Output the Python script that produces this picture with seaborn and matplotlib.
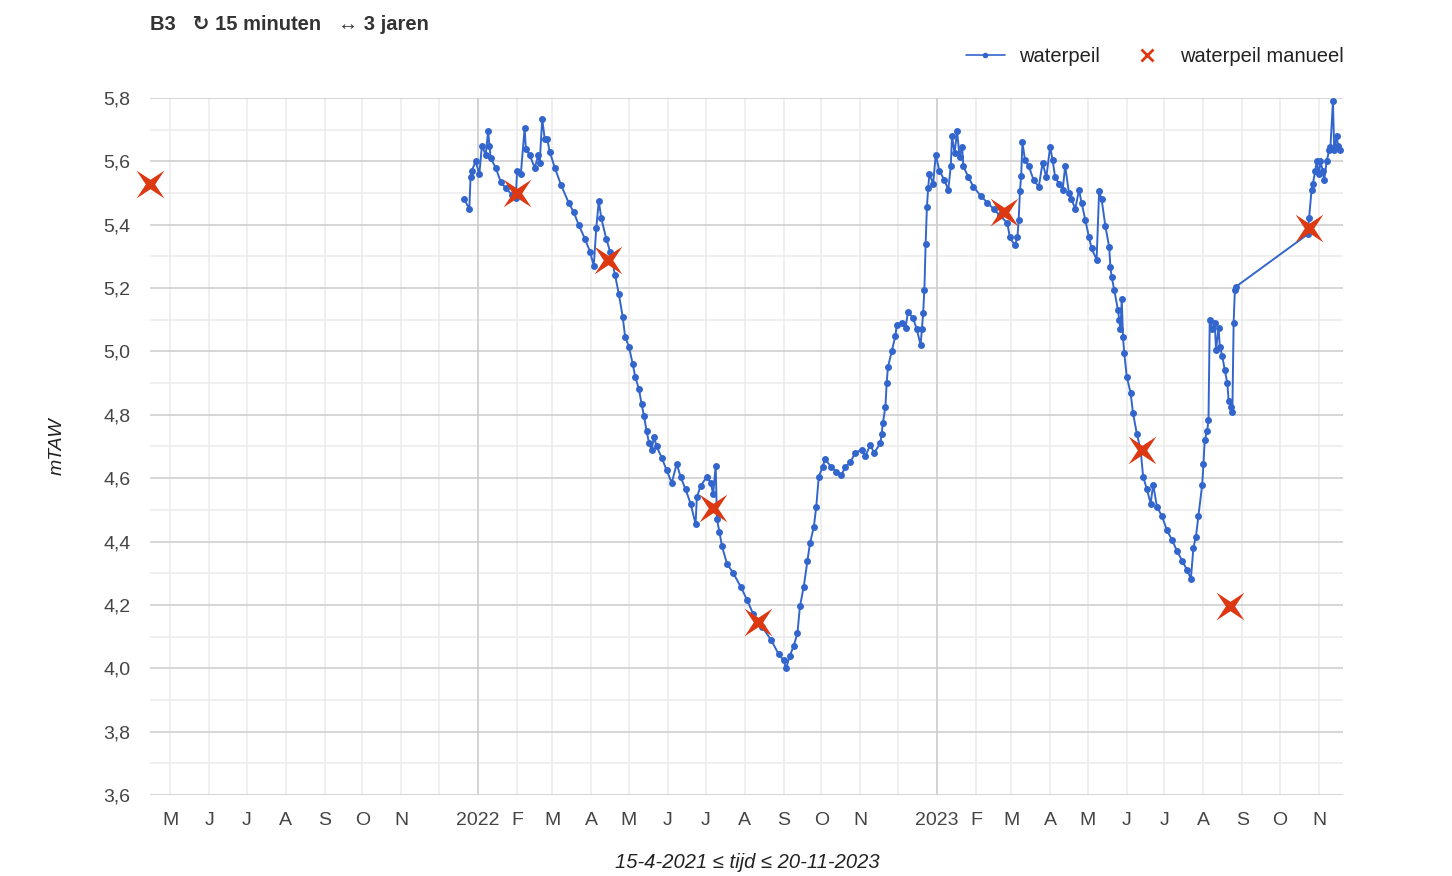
import matplotlib
matplotlib.use("Agg")
import matplotlib.pyplot as plt
import matplotlib.dates as mdates
from matplotlib.ticker import MultipleLocator, FuncFormatter
from matplotlib.lines import Line2D
from matplotlib.path import Path
import numpy as np
import pandas as pd
import seaborn as sns

# ---- data ----
wp_dates = [
    "2021-12-21", "2021-12-25", "2021-12-26", "2021-12-27", "2021-12-30",
    "2022-01-02", "2022-01-04", "2022-01-07", "2022-01-09", "2022-01-10", "2022-01-11",
    "2022-01-15", "2022-01-19", "2022-01-23", "2022-01-28", "2022-01-31",
    "2022-02-01", "2022-02-04", "2022-02-07", "2022-02-08", "2022-02-11", "2022-02-15",
    "2022-02-18", "2022-02-19", "2022-02-21", "2022-02-23", "2022-02-25", "2022-02-27",
    "2022-03-03", "2022-03-08", "2022-03-14", "2022-03-18", "2022-03-22", "2022-03-27",
    "2022-03-31", "2022-04-03", "2022-04-05", "2022-04-07", "2022-04-09", "2022-04-13",
    "2022-04-16", "2022-04-20", "2022-04-23", "2022-04-26", "2022-04-28", "2022-05-01",
    "2022-05-04", "2022-05-06", "2022-05-09", "2022-05-11", "2022-05-13", "2022-05-15",
    "2022-05-17", "2022-05-19", "2022-05-21", "2022-05-23", "2022-05-27", "2022-05-31",
    "2022-06-04", "2022-06-08", "2022-06-11", "2022-06-15", "2022-06-19", "2022-06-23",
    "2022-06-24", "2022-06-27", "2022-07-02", "2022-07-05", "2022-07-07", "2022-07-09",
    "2022-07-10", "2022-07-12", "2022-07-14", "2022-07-18", "2022-07-23", "2022-07-29",
    "2022-08-03", "2022-08-08", "2022-08-15", "2022-08-22", "2022-08-28", "2022-09-01",
    "2022-09-03", "2022-09-06", "2022-09-09", "2022-09-12", "2022-09-14", "2022-09-17",
    "2022-09-20", "2022-09-22", "2022-09-25", "2022-09-27", "2022-09-29", "2022-10-02",
    "2022-10-04", "2022-10-09", "2022-10-13", "2022-10-17", "2022-10-20", "2022-10-24",
    "2022-10-28", "2022-11-02", "2022-11-05", "2022-11-09", "2022-11-12", "2022-11-17",
    "2022-11-18", "2022-11-19", "2022-11-21", "2022-11-22", "2022-11-23", "2022-11-26",
    "2022-11-29", "2022-11-30", "2022-12-04", "2022-12-07", "2022-12-09", "2022-12-13",
    "2022-12-16", "2022-12-19", "2022-12-20", "2022-12-21", "2022-12-22", "2022-12-23",
    "2022-12-24", "2022-12-25", "2022-12-26", "2022-12-29", "2022-12-31",
    "2023-01-03", "2023-01-07", "2023-01-10", "2023-01-12", "2023-01-13", "2023-01-15",
    "2023-01-17", "2023-01-19", "2023-01-21", "2023-01-22", "2023-01-26", "2023-01-30",
    "2023-02-05", "2023-02-10", "2023-02-15", "2023-02-20", "2023-02-26", "2023-02-28",
    "2023-03-04", "2023-03-06", "2023-03-07", "2023-03-08", "2023-03-09", "2023-03-10",
    "2023-03-12", "2023-03-15", "2023-03-19", "2023-03-23", "2023-03-26", "2023-03-29",
    "2023-04-01", "2023-04-03", "2023-04-05", "2023-04-08", "2023-04-11", "2023-04-13",
    "2023-04-16", "2023-04-18", "2023-04-21", "2023-04-24", "2023-04-26", "2023-04-29",
    "2023-05-02", "2023-05-04", "2023-05-08", "2023-05-10", "2023-05-12", "2023-05-15",
    "2023-05-18", "2023-05-19", "2023-05-20", "2023-05-22", "2023-05-25", "2023-05-26",
    "2023-05-27", "2023-05-28", "2023-05-29", "2023-05-30", "2023-06-01", "2023-06-04",
    "2023-06-06", "2023-06-09", "2023-06-12", "2023-06-14", "2023-06-17", "2023-06-20",
    "2023-06-22", "2023-06-25", "2023-06-29", "2023-07-03", "2023-07-07", "2023-07-11",
    "2023-07-15", "2023-07-19", "2023-07-22", "2023-07-24", "2023-07-26", "2023-07-28",
    "2023-07-31", "2023-08-01", "2023-08-02", "2023-08-04", "2023-08-05", "2023-08-06",
    "2023-08-08", "2023-08-10", "2023-08-11", "2023-08-13", "2023-08-14", "2023-08-16",
    "2023-08-18", "2023-08-20", "2023-08-21", "2023-08-23", "2023-08-24", "2023-08-25",
    "2023-08-26", "2023-08-27",
    "2023-10-23", "2023-10-24", "2023-10-26", "2023-10-27", "2023-10-29", "2023-10-30",
    "2023-11-01", "2023-11-02", "2023-11-04", "2023-11-05", "2023-11-07", "2023-11-09",
    "2023-11-10", "2023-11-12", "2023-11-13", "2023-11-15", "2023-11-16", "2023-11-18",
]
wp_values = [
    5.48, 5.45, 5.55, 5.57, 5.60,
    5.56, 5.65, 5.62, 5.695, 5.65, 5.61,
    5.58, 5.535, 5.515, 5.495, 5.485,
    5.57, 5.56, 5.705, 5.64, 5.62, 5.58,
    5.62, 5.595, 5.735, 5.67, 5.67, 5.63,
    5.58, 5.525, 5.47, 5.44, 5.40, 5.355,
    5.315, 5.27, 5.39, 5.475, 5.42, 5.355,
    5.315, 5.24, 5.18, 5.11, 5.045, 5.015,
    4.96, 4.92, 4.88, 4.835, 4.795, 4.75,
    4.71, 4.69, 4.73, 4.70, 4.665, 4.625,
    4.585, 4.645, 4.605, 4.565, 4.52, 4.455,
    4.54, 4.575, 4.605, 4.585, 4.55, 4.64,
    4.47, 4.43, 4.385, 4.33, 4.30, 4.257,
    4.215, 4.17, 4.13, 4.09, 4.045, 4.025,
    4.00, 4.04, 4.07, 4.11, 4.195, 4.257,
    4.34, 4.395, 4.445, 4.51, 4.605, 4.635,
    4.66, 4.635, 4.62, 4.61, 4.635, 4.65,
    4.68, 4.69, 4.67, 4.705, 4.68, 4.71,
    4.74, 4.775, 4.825, 4.90, 4.95, 5.00,
    5.05, 5.085, 5.09, 5.075, 5.125, 5.105,
    5.07, 5.02, 5.07, 5.12, 5.195, 5.34,
    5.455, 5.515, 5.56, 5.53, 5.62,
    5.57, 5.54, 5.51, 5.585, 5.68, 5.625,
    5.695, 5.615, 5.645, 5.585, 5.55, 5.52,
    5.49, 5.47, 5.45, 5.43, 5.405, 5.36,
    5.335, 5.36, 5.415, 5.505, 5.555, 5.66,
    5.605, 5.585, 5.54, 5.52, 5.595, 5.55,
    5.645, 5.605, 5.55, 5.53, 5.51, 5.585,
    5.50, 5.48, 5.45, 5.51, 5.47, 5.415,
    5.36, 5.325, 5.29, 5.505, 5.48, 5.395,
    5.33, 5.265, 5.235, 5.195, 5.13, 5.10,
    5.07, 5.165, 5.045, 4.995, 4.92, 4.87,
    4.805, 4.74, 4.69, 4.605, 4.565, 4.52,
    4.58, 4.51, 4.48, 4.435, 4.405, 4.37,
    4.34, 4.31, 4.283, 4.38, 4.415, 4.48,
    4.58, 4.645, 4.72, 4.75, 4.785, 5.10,
    5.07, 5.09, 5.005, 5.075, 5.015, 4.985,
    4.94, 4.90, 4.845, 4.825, 4.81, 5.09,
    5.195, 5.205,
    5.37, 5.42, 5.51, 5.53, 5.57, 5.60,
    5.56, 5.60, 5.57, 5.54, 5.60, 5.635,
    5.645, 5.79, 5.635, 5.68, 5.65, 5.635,
]
man_dates = ["2021-04-15", "2022-02-01", "2022-04-14", "2022-07-07", "2022-08-12",
             "2023-02-23", "2023-06-13", "2023-08-22", "2023-10-24"]
man_values = [5.53, 5.50, 5.29, 4.505, 4.145, 5.44, 4.69, 4.195, 5.39]

x_start, x_end = "2021-04-15", "2023-11-20"
title_text = "B3   \u21bb 15 minuten   \u2194 3 jaren"
x_label = "15-4-2021 \u2264 tijd \u2264 20-11-2023"
y_label = "mTAW"
series_names = ["waterpeil", "waterpeil manueel"]

# ---- plotting ----
BLUE = "#3366cc"
RED = "#dc3912"
W, H = 1452, 876

# thin four-pointed star (points on the diagonals)
ang = np.deg2rad(np.arange(8) * 45.0 + 45.0)
rad = np.array([1.0 if i % 2 == 0 else 0.24 for i in range(8)])
star_verts = np.column_stack([rad * np.cos(ang), rad * np.sin(ang)])
star_verts = np.vstack([star_verts, star_verts[:1]])
star_path = Path(star_verts, closed=True)

sns.set_theme(style="white")
plt.rcParams["font.family"] = ["Liberation Sans", "DejaVu Sans"]

df_wp = pd.DataFrame({"tijd": pd.to_datetime(wp_dates), "waterpeil": wp_values})
df_man = pd.DataFrame({"tijd": pd.to_datetime(man_dates), "waterpeil": man_values})

fig = plt.figure(figsize=(W / 100, H / 100), dpi=100)
ax = fig.add_axes([150 / W, 1 - 795 / H, (1343 - 150) / W, (795 - 98) / H])

sns.lineplot(data=df_wp, x="tijd", y="waterpeil", ax=ax, color=BLUE, lw=1.4,
             marker="o", markersize=5, markeredgewidth=0, sort=False, zorder=3)
sns.scatterplot(data=df_man, x="tijd", y="waterpeil", ax=ax, color=RED,
                marker=star_path, s=400, linewidth=0, zorder=4, clip_on=False)

ax.set_xlim(pd.Timestamp(x_start), pd.Timestamp(x_end))
ax.set_ylim(3.6, 5.8)

# y grid
ax.yaxis.set_major_locator(MultipleLocator(0.2))
ax.yaxis.set_minor_locator(MultipleLocator(0.1))
ax.yaxis.set_major_formatter(FuncFormatter(lambda v, p: f"{v:.1f}".replace(".", ",")))
ax.grid(which="major", axis="y", color="#cccccc", lw=1.1)
ax.grid(which="minor", axis="y", color="#ebebeb", lw=1.1)

# x grid: month starts
ax.xaxis.set_major_locator(mdates.MonthLocator())
initials = "JFMAMJJASOND"
def fmt_x(v, p):
    d = mdates.num2date(v)
    if d.month == 1:
        return str(d.year)
    if d.month == 12:
        return ""
    return initials[d.month - 1]
ax.xaxis.set_major_formatter(FuncFormatter(fmt_x))
ax.grid(which="major", axis="x", color="#ebebeb", lw=1.1)
for yr in (2022, 2023):
    ax.axvline(pd.Timestamp(f"{yr}-01-01"), color="#cccccc", lw=1.1, zorder=1)
ax.set_axisbelow(True)

for s in ax.spines.values():
    s.set_visible(False)
ax.tick_params(axis="both", which="both", length=0, labelsize=14, labelcolor="#444444")
ax.tick_params(axis="y", pad=14)
ax.tick_params(axis="x", pad=12)
ax.set_xlabel("")
ax.set_ylabel("")

fig.text(57 / W, 1 - 446 / H, y_label, rotation=90, ha="center", va="center",
         fontsize=14, style="italic", color="#222222")
fig.text(747 / W, 1 - 863 / H, x_label, ha="center", va="center",
         fontsize=14.5, style="italic", color="#222222")
fig.text(150 / W, 1 - 25 / H, title_text, ha="left", va="center",
         fontsize=14.5, fontweight="bold", color="#333333")

handles = [
    Line2D([0], [0], color=BLUE, lw=1.2, marker="o", markersize=4, markeredgewidth=0),
    Line2D([0], [0], color=RED, lw=0, marker="x", markersize=9, markeredgewidth=2),
]
fig.legend(handles, series_names, loc="center right",
           bbox_to_anchor=(1362 / W, 1 - 57 / H), ncol=2, frameon=False,
           fontsize=14.5, handlelength=1.9, columnspacing=1.4, handletextpad=0.7,
           labelcolor="#222222")

fig.savefig("out.png", dpi=100)
